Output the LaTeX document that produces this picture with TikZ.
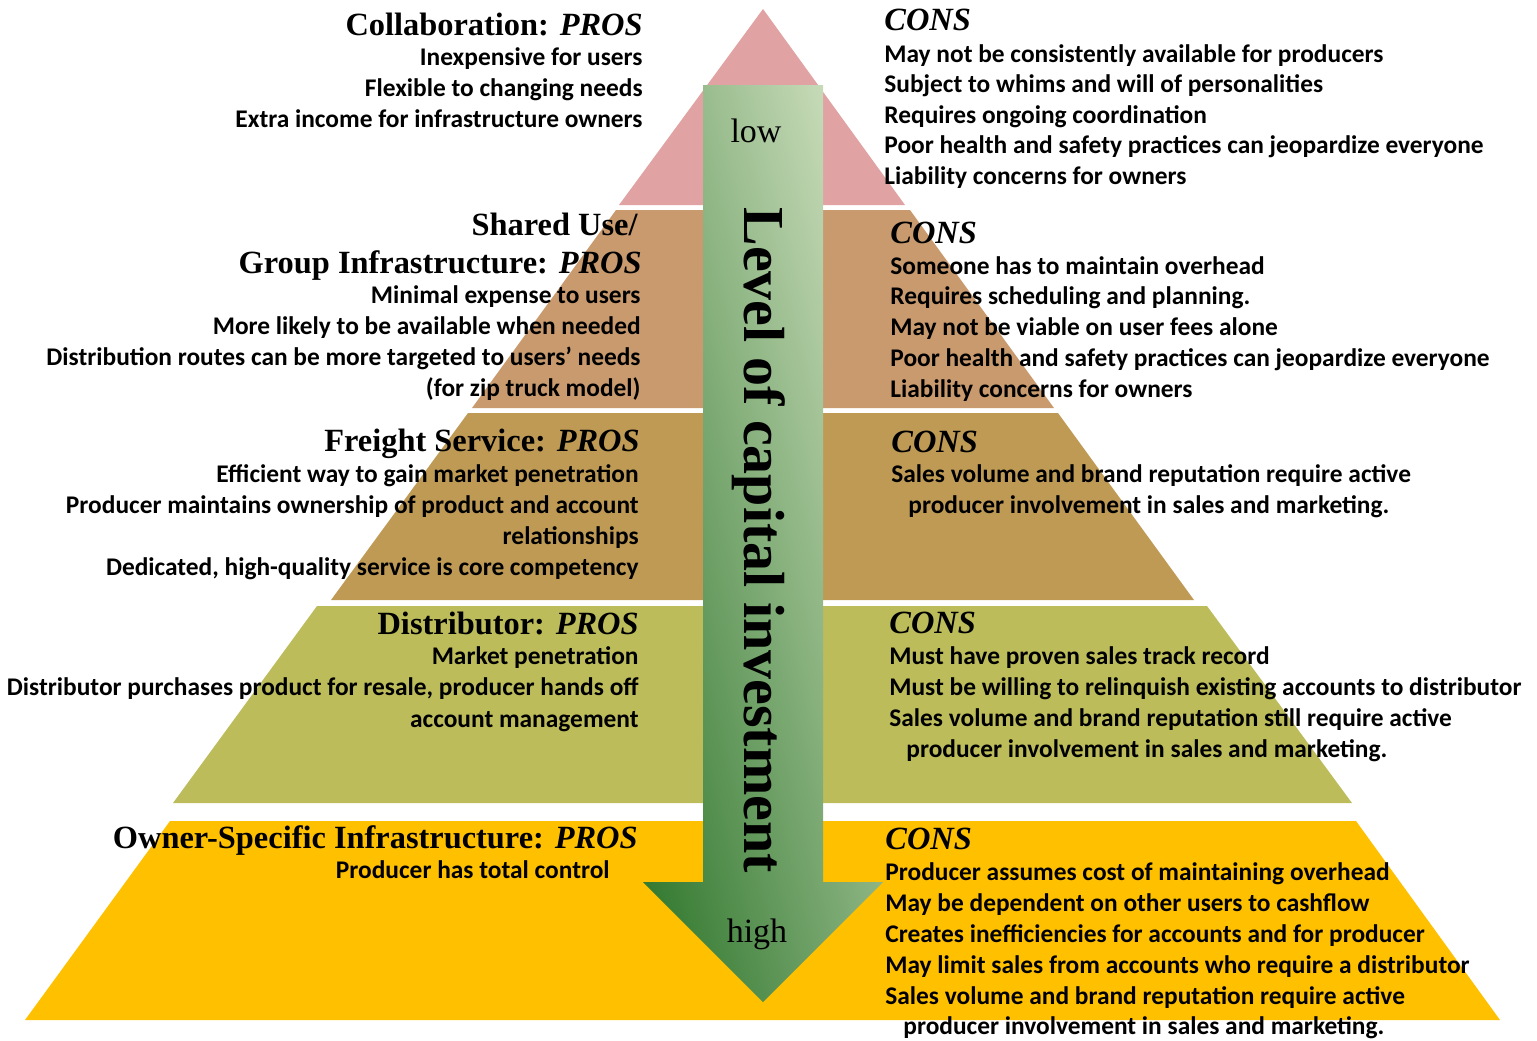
\documentclass[tikz,border=0pt]{standalone}
\usepackage{fontspec}
\setmainfont{Carlito}
\newfontfamily\headfont{Liberation Serif}
\usetikzlibrary{positioning}

\definecolor{collab}{HTML}{E0A2A2}
\definecolor{shared}{HTML}{C99A6E}
\definecolor{freight}{HTML}{BE9A55}
\definecolor{distrib}{HTML}{BCBC5A}
\definecolor{owner}{HTML}{FFC000}
\definecolor{arrowlight}{HTML}{DDE9CC}
\definecolor{arrowmid}{HTML}{93B66E}
\definecolor{arrowdark}{HTML}{287226}

\tikzset{
  body/.style={font=\bfseries\fontsize{12.7}{14}\selectfont, inner sep=0pt},
  head/.style={font=\headfont\bfseries\fontsize{16.2}{19}\selectfont, inner sep=0pt},
  pros/.style={anchor=base east},
  cons/.style={anchor=base west},
  tag/.style={font=\headfont\fontsize{17}{19}\selectfont},
}

\begin{document}
\begin{tikzpicture}[x=0.5pt, y=-0.5pt]
    \useasboundingbox (0,0) rectangle (1537,1040);

    % Pyramid layers, top to bottom
    \fill[collab] (763,9) -- (905,205) -- (619,205) -- cycle;
    \fill[shared] (616,210) -- (910,210) -- (1054,408) -- (472,408) -- cycle;
    \fill[freight] (468,413) -- (1058,413) -- (1194,600) -- (331,600) -- cycle;
    \fill[distrib] (317,606) -- (1207,606) -- (1352,803) -- (173,803) -- cycle;
    \fill[owner] (170,821) -- (1356,821) -- (1500,1020) -- (25,1020) -- cycle;

    % Arrow down the middle, shaded dark (lower left) to light (upper right)
    \begin{scope}
        \clip (703,85) -- (823,85) -- (823,882) -- (883,882)
            -- (763,1002) -- (643,882) -- (703,882) -- cycle;
        \begin{scope}[transform canvas={shift={(643,1002)}, rotate=14.7}]
            \shade[left color=arrowdark, middle color=arrowmid, right color=arrowlight]
                (0,-1150) rectangle (464,300);
        \end{scope}
    \end{scope}
    \node[tag] (low) at (756,131) {low};
    \node[tag] (high) at (757,934) {high};
    \node[font=\headfont\bfseries\fontsize{29}{32}\selectfont, rotate=-90, inner sep=0pt] (level) at (759,540) {Level of capital investment};

    % Collaboration
    \node[head, pros] (collab-pros) at (643,35) {Collaboration: \textit{PROS}};
    \foreach \t [count=\i] in {Inexpensive for users, Flexible to changing needs,
        Extra income for infrastructure owners}
        \node[body, pros] (collab-p\i) at (643,{65+31*(\i-1)}) {\t};
    \node[head, cons] (collab-cons) at (884,30) {\textit{CONS}};
    \foreach \t [count=\i] in {May not be consistently available for producers,
        Subject to whims and will of personalities, Requires ongoing coordination,
        Poor health and safety practices can jeopardize everyone, Liability concerns for owners}
        \node[body, cons] (collab-c\i) at (884,{62+30.6*(\i-1)}) {\t};

    % Shared use / group infrastructure
    \node[head, pros] (shared-pros) at (638,235) {Shared Use/};
    \node[head, pros] (shared-pros2) at (642,273) {Group Infrastructure: \textit{PROS}};
    \foreach \t [count=\i] in {Minimal expense to users, More likely to be available when needed,
        Distribution routes can be more targeted to users’ needs, (for zip truck model)}
        \node[body, pros] (shared-p\i) at (641,{303+31*(\i-1)}) {\t};
    \node[head, cons] (shared-cons) at (890,243) {\textit{CONS}};
    \foreach \t [count=\i] in {Someone has to maintain overhead, Requires scheduling and planning.,
        May not be viable on user fees alone,
        Poor health and safety practices can jeopardize everyone, Liability concerns for owners}
        \node[body, cons] (shared-c\i) at (890,{274+30.9*(\i-1)}) {\t};

    % Freight service
    \node[head, pros] (freight-pros) at (640,451) {Freight Service: \textit{PROS}};
    \foreach \t [count=\i] in {Efficient way to gain market penetration,
        Producer maintains ownership of product and account, relationships,
        {Dedicated, high-quality service is core competency}}
        \node[body, pros] (freight-p\i) at (639,{482+31*(\i-1)}) {\t};
    \node[head, cons] (freight-cons) at (891,452) {\textit{CONS}};
    \node[body, cons] (freight-c1) at (891,482) {Sales volume and brand reputation require active};
    \node[body, cons] (freight-c2) at (908,513) {producer involvement in sales and marketing.};

    % Distributor
    \node[head, pros] (distrib-pros) at (639,634) {Distributor: \textit{PROS}};
    \foreach \t [count=\i] in {Market penetration,
        {Distributor purchases product for resale, producer hands off}, account management}
        \node[body, pros] (distrib-p\i) at (639,{664+31.5*(\i-1)}) {\t};
    \node[head, cons] (distrib-cons) at (889,633) {\textit{CONS}};
    \foreach \t [count=\i] in {Must have proven sales track record,
        Must be willing to relinquish existing accounts to distributor,
        Sales volume and brand reputation still require active}
        \node[body, cons] (distrib-c\i) at (889,{664+31*(\i-1)}) {\t};
    \node[body, cons] (distrib-c4) at (906,757) {producer involvement in sales and marketing.};

    % Owner-specific infrastructure
    \node[head, pros] (owner-pros) at (638,848) {Owner-Specific Infrastructure: \textit{PROS}};
    \node[body, pros] (owner-p1) at (610,878) {Producer has total control};
    \node[head, cons] (owner-cons) at (885,849) {\textit{CONS}};
    \foreach \t [count=\i] in {Producer assumes cost of maintaining overhead,
        May be dependent on other users to cashflow,
        Creates inefficiencies for accounts and for producer,
        May limit sales from accounts who require a distributor,
        Sales volume and brand reputation require active}
        \node[body, cons] (owner-c\i) at (885,{880+31*(\i-1)}) {\t};
    \node[body, cons] (owner-c6) at (903,1034) {producer involvement in sales and marketing.};
\end{tikzpicture}
\end{document}
